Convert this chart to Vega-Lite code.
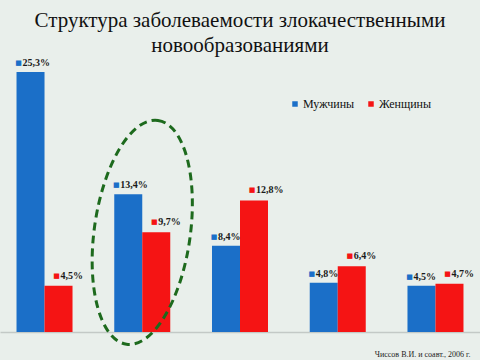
{
  "$schema": "https://vega.github.io/schema/vega-lite/v6.json",
  "width": 480,
  "height": 260,
  "autosize": {"type": "none"},
  "padding": {"left": 0, "right": 0, "top": 72, "bottom": 28},
  "background": "#e9efeb",
  "config": {
    "view": {"stroke": null},
    "font": "Liberation Serif",
    "locale": {"number": {"decimal": ",", "thousands": " ", "grouping": [3], "currency": ["", " ₽"]}}
  },
  "title": {
    "text": ["Структура заболеваемости злокачественными", "новообразованиями"],
    "anchor": "middle",
    "frame": "group",
    "font": "Liberation Serif",
    "fontSize": 21,
    "fontWeight": "normal",
    "color": "#111111",
    "lineHeight": 25,
    "baseline": "bottom",
    "offset": 17,
    "dy": 36
  },
  "datasets": {
    "bars": [
      {"group": "1", "sex": "Мужчины", "share": 0.253},
      {"group": "1", "sex": "Женщины", "share": 0.045},
      {"group": "2", "sex": "Мужчины", "share": 0.134},
      {"group": "2", "sex": "Женщины", "share": 0.097},
      {"group": "3", "sex": "Мужчины", "share": 0.084},
      {"group": "3", "sex": "Женщины", "share": 0.128},
      {"group": "4", "sex": "Мужчины", "share": 0.048},
      {"group": "4", "sex": "Женщины", "share": 0.064},
      {"group": "5", "sex": "Мужчины", "share": 0.045},
      {"group": "5", "sex": "Женщины", "share": 0.047}
    ],
    "ellipse": [{"group": "2", "share": 0.097}]
  },
  "data": {"name": "bars"},
  "encoding": {
    "x": {
      "field": "group",
      "type": "nominal",
      "scale": {"paddingInner": 0.427, "paddingOuter": 0.169},
      "axis": {
        "labels": false,
        "ticks": false,
        "domainColor": "#c3c9c6",
        "domainWidth": 1.5,
        "title": "Чиссов В.И. и соавт., 2006 г.",
        "titleFont": "Liberation Serif",
        "titleFontSize": 8,
        "titleFontWeight": "normal",
        "titleColor": "#222222",
        "titleAnchor": "end",
        "titleAlign": "right",
        "titleBaseline": "alphabetic",
        "titleX": 470,
        "titleY": 24
      }
    },
    "xOffset": {"field": "sex", "type": "nominal", "sort": ["Мужчины", "Женщины"], "scale": {"paddingInner": 0, "paddingOuter": 0}},
    "y": {"field": "share", "type": "quantitative", "scale": {"domain": [0, 0.253], "nice": false}, "axis": null}
  },
  "layer": [
    {
      "mark": {"type": "bar"},
      "encoding": {
        "color": {
          "field": "sex",
          "type": "nominal",
          "scale": {"domain": ["Мужчины", "Женщины"], "range": ["#1b6fc8", "#f51414"]},
          "legend": {
            "orient": "none",
            "legendX": 289,
            "legendY": 26,
            "direction": "horizontal",
            "title": null,
            "symbolType": "square",
            "symbolSize": 30,
            "symbolStrokeWidth": 0,
            "labelFont": "Liberation Serif",
            "labelFontSize": 12,
            "labelColor": "#111111",
            "labelOffset": 2,
            "columnSpacing": 10
          }
        }
      }
    },
    {
      "transform": [{"filter": "datum.sex === 'Мужчины'"}],
      "mark": {"type": "text", "text": "■", "font": "DejaVu Sans", "fontSize": 7, "align": "center", "baseline": "middle", "dx": -12, "dy": -9, "color": "#1b6fc8"}
    },
    {
      "transform": [{"filter": "datum.sex === 'Мужчины'"}],
      "mark": {"type": "text", "align": "left", "baseline": "middle", "dx": -8, "dy": -9, "font": "Liberation Serif", "fontSize": 10, "fontWeight": "bold", "color": "#1a1a1a"},
      "encoding": {"text": {"field": "share", "type": "quantitative", "format": ".1%"}}
    },
    {
      "transform": [{"filter": "datum.sex === 'Женщины'"}],
      "mark": {"type": "text", "text": "■", "font": "DejaVu Sans", "fontSize": 7, "align": "center", "baseline": "middle", "dx": -2, "dy": -10, "color": "#f51414"}
    },
    {
      "transform": [{"filter": "datum.sex === 'Женщины'"}],
      "mark": {"type": "text", "align": "left", "baseline": "middle", "dx": 2, "dy": -10, "font": "Liberation Serif", "fontSize": 10, "fontWeight": "bold", "color": "#1a1a1a"},
      "encoding": {"text": {"field": "share", "type": "quantitative", "format": ".1%"}}
    },
    {
      "data": {"name": "ellipse"},
      "mark": {
        "type": "point",
        "shape": "M0,-1A0.425,1,0,1,1,0,1A0.425,1,0,1,1,0,-1Z",
        "size": 51076,
        "angle": 8,
        "filled": false,
        "stroke": "#1d6a1d",
        "strokeWidth": 3,
        "strokeDash": [8, 5],
        "opacity": 1
      },
      "encoding": {
        "x": {"field": "group", "type": "nominal"},
        "xOffset": null,
        "y": {"field": "share", "type": "quantitative"}
      }
    }
  ]
}
